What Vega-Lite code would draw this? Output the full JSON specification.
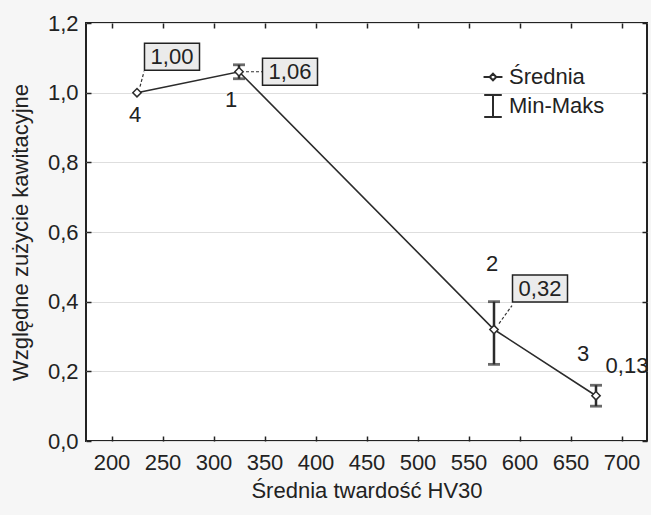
{
  "$schema": "https://vega.github.io/schema/vega-lite/v6.json",
  "width": 561,
  "height": 418,
  "autosize": {"type": "none"},
  "padding": {"left": 86, "top": 23, "right": 4, "bottom": 74},
  "background": "#f6f6f6",
  "config": {
    "view": {"fill": "white", "stroke": "#222222", "strokeWidth": 2},
    "font": "Liberation Sans",
    "axis": {
      "labelFont": "Liberation Sans",
      "titleFont": "Liberation Sans",
      "labelFontSize": 22,
      "titleFontSize": 22,
      "labelColor": "#222222",
      "titleColor": "#222222",
      "titleFontWeight": "normal",
      "tickColor": "#222222",
      "tickWidth": 1.5,
      "domain": false
    },
    "text": {"font": "Liberation Sans", "fontSize": 22, "fill": "#222222"}
  },
  "data": {
    "values": [
      {"id": "4", "hv": 225, "z": 1.00, "min": null, "max": null, "label": "1,00"},
      {"id": "1", "hv": 325, "z": 1.06, "min": 1.04, "max": 1.08, "label": "1,06"},
      {"id": "2", "hv": 575, "z": 0.32, "min": 0.22, "max": 0.40, "label": "0,32"},
      {"id": "3", "hv": 675, "z": 0.13, "min": 0.10, "max": 0.16, "label": "0,13"}
    ]
  },
  "encoding": {
    "x": {"field": "hv", "type": "quantitative", "scale": {"domain": [175, 725], "nice": false, "zero": false}, "axis": null},
    "y": {"field": "z", "type": "quantitative", "scale": {"domain": [0, 1.2], "nice": false}, "axis": null}
  },
  "layer": [
    {
      "mark": {"type": "point", "opacity": 0},
      "encoding": {
        "x": {
          "field": "hv", "type": "quantitative",
          "scale": {"domain": [175, 725], "nice": false, "zero": false},
          "axis": {"orient": "top", "values": [200, 250, 300, 350, 400, 450, 500, 550, 600, 650, 700], "labels": false, "title": null, "grid": false, "tickSize": -5}
        },
        "y": {
          "field": "z", "type": "quantitative",
          "scale": {"domain": [0, 1.2], "nice": false},
          "axis": {"orient": "right", "values": [0, 0.2, 0.4, 0.6, 0.8, 1.0, 1.2], "labels": false, "title": null, "grid": false, "tickSize": -5}
        }
      }
    },
    {
      "mark": {"type": "line", "color": "#2b2b2b", "strokeWidth": 1.6},
      "encoding": {
        "x": {
          "field": "hv", "type": "quantitative",
          "scale": {"domain": [175, 725], "nice": false, "zero": false},
          "axis": {
            "orient": "bottom",
            "values": [200, 250, 300, 350, 400, 450, 500, 550, 600, 650, 700],
            "tickSize": -5,
            "labelPadding": 16,
            "grid": false,
            "title": "Średnia twardość HV30",
            "titlePadding": 7
          }
        },
        "y": {
          "field": "z", "type": "quantitative",
          "scale": {"domain": [0, 1.2], "nice": false},
          "axis": {
            "orient": "left",
            "values": [0, 0.2, 0.4, 0.6, 0.8, 1.0, 1.2],
            "labelExpr": "replace(format(datum.value, '.1f'), '.', ',')",
            "tickSize": -5,
            "labelPadding": 13,
            "grid": true,
            "gridColor": "#dedede",
            "gridWidth": 1,
            "title": "Względne zużycie kawitacyjne",
            "titlePadding": 15
          }
        }
      }
    },
    {
      "transform": [{"filter": "datum.min != null"}],
      "mark": {"type": "rule", "color": "#2b2b2b", "strokeWidth": 2.5},
      "encoding": {
        "y": {"field": "min", "type": "quantitative", "scale": {"domain": [0, 1.2], "nice": false}, "axis": null},
        "y2": {"field": "max"}
      }
    },
    {
      "transform": [{"filter": "datum.min != null"}],
      "mark": {"type": "tick", "orient": "horizontal", "size": 12, "thickness": 2.8, "color": "#2b2b2b"},
      "encoding": {
        "y": {"field": "min", "type": "quantitative", "scale": {"domain": [0, 1.2], "nice": false}, "axis": null}
      }
    },
    {
      "transform": [{"filter": "datum.max != null"}],
      "mark": {"type": "tick", "orient": "horizontal", "size": 12, "thickness": 2.8, "color": "#2b2b2b"},
      "encoding": {
        "y": {"field": "max", "type": "quantitative", "scale": {"domain": [0, 1.2], "nice": false}, "axis": null}
      }
    },
    {
      "mark": {"type": "point", "shape": "diamond", "size": 70, "filled": true, "fill": "white", "stroke": "#2b2b2b", "strokeWidth": 1.5, "opacity": 1}
    },
    {
      "transform": [{"filter": "datum.id == '4'"}],
      "mark": {"type": "rule", "color": "#333333", "strokeWidth": 1.2, "strokeDash": [3, 2], "xOffset": 3, "yOffset": -6, "x2Offset": 7, "y2Offset": -21},
      "encoding": {"x2": {"field": "hv"}, "y2": {"field": "z"}}
    },
    {
      "transform": [{"filter": "datum.id == '1'"}],
      "mark": {"type": "rule", "color": "#333333", "strokeWidth": 1.2, "strokeDash": [3, 2], "xOffset": 7, "yOffset": 0, "x2Offset": 23, "y2Offset": 0},
      "encoding": {"x2": {"field": "hv"}, "y2": {"field": "z"}}
    },
    {
      "transform": [{"filter": "datum.id == '2'"}],
      "mark": {"type": "rule", "color": "#333333", "strokeWidth": 1.2, "strokeDash": [3, 2], "xOffset": 5, "yOffset": -6, "x2Offset": 18, "y2Offset": -24},
      "encoding": {"x2": {"field": "hv"}, "y2": {"field": "z"}}
    },
    {
      "transform": [{"filter": "datum.id == '4'"}],
      "mark": {"type": "point", "shape": "M-1,-0.49L1,-0.49L1,0.49L-1,0.49Z", "size": 3025, "filled": true, "fill": "#ebebeb", "stroke": "#222222", "strokeWidth": 1.5, "opacity": 1, "xOffset": 35, "yOffset": -36}
    },
    {
      "transform": [{"filter": "datum.id == '1'"}],
      "mark": {"type": "point", "shape": "M-1,-0.49L1,-0.49L1,0.49L-1,0.49Z", "size": 3025, "filled": true, "fill": "#ebebeb", "stroke": "#222222", "strokeWidth": 1.5, "opacity": 1, "xOffset": 51, "yOffset": 0}
    },
    {
      "transform": [{"filter": "datum.id == '2'"}],
      "mark": {"type": "point", "shape": "M-1,-0.49L1,-0.49L1,0.49L-1,0.49Z", "size": 3025, "filled": true, "fill": "#ebebeb", "stroke": "#222222", "strokeWidth": 1.5, "opacity": 1, "xOffset": 46, "yOffset": -41}
    },
    {
      "transform": [{"filter": "datum.id == '4'"}],
      "mark": {"type": "text", "dx": 35, "dy": -36},
      "encoding": {"text": {"field": "label"}}
    },
    {
      "transform": [{"filter": "datum.id == '1'"}],
      "mark": {"type": "text", "dx": 51, "dy": 0},
      "encoding": {"text": {"field": "label"}}
    },
    {
      "transform": [{"filter": "datum.id == '2'"}],
      "mark": {"type": "text", "dx": 46, "dy": -41},
      "encoding": {"text": {"field": "label"}}
    },
    {
      "transform": [{"filter": "datum.id == '3'"}],
      "mark": {"type": "text", "dx": 31, "dy": -30},
      "encoding": {"text": {"field": "label"}}
    },
    {
      "transform": [{"filter": "datum.id == '4'"}],
      "mark": {"type": "text", "dx": -2, "dy": 22},
      "encoding": {"text": {"field": "id"}}
    },
    {
      "transform": [{"filter": "datum.id == '1'"}],
      "mark": {"type": "text", "dx": -8, "dy": 28},
      "encoding": {"text": {"field": "id"}}
    },
    {
      "transform": [{"filter": "datum.id == '2'"}],
      "mark": {"type": "text", "dx": -2, "dy": -66},
      "encoding": {"text": {"field": "id"}}
    },
    {
      "transform": [{"filter": "datum.id == '3'"}],
      "mark": {"type": "text", "dx": -13, "dy": -42},
      "encoding": {"text": {"field": "id"}}
    },
    {
      "data": {"values": [{"s": "Średnia"}, {"s": "Min-Maks"}]},
      "mark": {"type": "point", "opacity": 0, "filled": false, "color": "#2b2b2b"},
      "encoding": {
        "x": {"value": 10},
        "y": {"value": 10},
        "shape": {
          "field": "s", "type": "nominal",
          "scale": {
            "domain": ["Średnia", "Min-Maks"],
            "range": ["M-0.86,0L-0.3,0M0.3,0L0.86,0M-0.3,0L0,-0.3L0.3,0L0,0.3Z", "M-0.8,-1L0.8,-1M0,-1L0,1M-0.8,1L0.8,1"]
          },
          "legend": {
            "orient": "none",
            "legendX": 395,
            "legendY": 42,
            "title": null,
            "padding": 0,
            "labelFont": "Liberation Sans",
            "labelFontSize": 22,
            "labelColor": "#222222",
            "labelOffset": 4,
            "symbolSize": 484,
            "symbolStrokeColor": "#2b2b2b",
            "symbolStrokeWidth": 2,
            "symbolFillColor": "transparent",
            "symbolOpacity": 1,
            "rowPadding": 3
          }
        }
      }
    }
  ],
  "resolve": {"axis": {"x": "independent", "y": "independent"}}
}
